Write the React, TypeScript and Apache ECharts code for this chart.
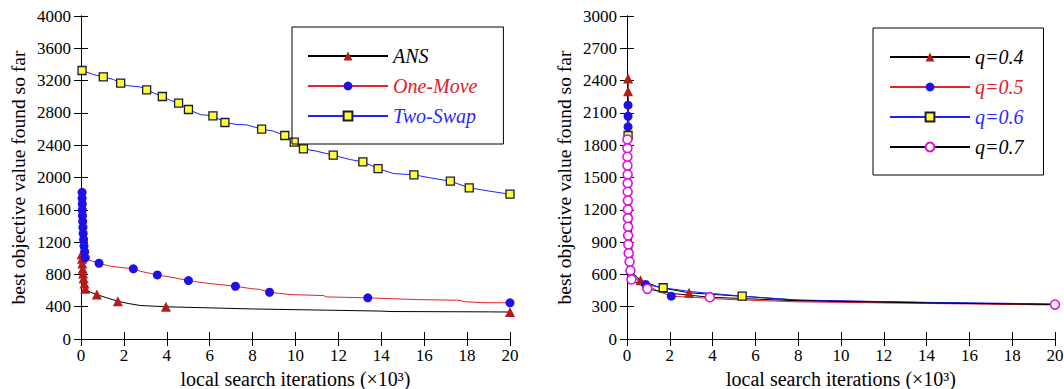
import React, { useEffect, useRef } from "react";
import * as echarts from "echarts";

const FONT = "Liberation Serif";

// ---------- Left panel: heuristics ----------
const leftNames = ["ANS", "One-Move", "Two-Swap"];
const ansMarks = [[0.03, 1050], [0.05, 993], [0.06, 935], [0.08, 869], [0.1, 811], [0.12, 753], [0.16, 687], [0.2, 621], [0.74, 550], [1.72, 468], [3.96, 399], [20, 334]];
const ansCurve = [[0.02, 1080], [0.43, 580], [1.2, 510], [2.2, 440], [2.76, 415], [8, 372], [13.9, 346], [14.5, 340], [19, 336]];
const oneMoveMarks = [[0.05, 1817], [0.05, 1743], [0.06, 1673], [0.06, 1599], [0.07, 1525], [0.08, 1454], [0.09, 1380], [0.1, 1306], [0.12, 1232], [0.14, 1153], [0.17, 1079], [0.2, 1005], [0.84, 938], [2.44, 869], [3.56, 794], [5.01, 724], [7.2, 653], [8.79, 579], [13.37, 510], [20, 448]];
const oneMoveCurve = [[0.04, 1830], [0.4, 975], [1.37, 901], [2.76, 839], [4.2, 765], [5.71, 696], [7.9, 625], [8.36, 613], [9.75, 550], [11.3, 538], [11.46, 521], [15.65, 488], [17.67, 480], [17.82, 463], [18.76, 450]];
const twoSwapMarks = [[0.05, 3325], [1.04, 3247], [1.85, 3168], [3.06, 3086], [3.79, 3003], [4.55, 2920], [5.01, 2842], [6.15, 2764], [6.71, 2681], [8.42, 2600], [9.5, 2520], [9.94, 2437], [10.37, 2355], [11.76, 2276], [13.14, 2194], [13.85, 2111], [15.52, 2033], [17.22, 1954], [18.1, 1872], [20, 1793]];
const twoSwapCurve = [[0.59, 3275], [1.52, 3213], [2.14, 3138], [2.76, 3122], [3.38, 3048], [4.16, 2956], [5.56, 2779], [7.27, 2656], [7.74, 2651], [8.98, 2573], [11.0, 2325], [12.55, 2222], [14.57, 2049], [16.28, 1996], [19.07, 1830]];

// ---------- Right panel: q values ----------
const rightNames = ["q=0.4", "q=0.5", "q=0.6", "q=0.7"];
const q4Marks = [[0.05, 2419], [0.05, 2302], [0.63, 546], [2.9, 429]];
const q4Curve = [[0.03, 2440], [0.25, 620], [1.5, 480], [6, 388], [8, 360], [12, 345], [20, 320]];
const q5Marks = [[0.05, 2172], [0.05, 2069], [0.05, 1971], [0.87, 506], [2.07, 398]];
const q5Curve = [[0.03, 2190], [0.2, 580], [1.5, 440], [5, 365], [8, 345], [14, 330], [20, 316]];
const q6Marks = [[0.05, 1890], [1.69, 476], [5.38, 398]];
const q6Curve = [[0.03, 1900], [0.25, 590], [0.9, 505], [3, 440], [8, 362], [14, 340], [20, 326]];
const q7Marks = [[0.02, 1853], [0.02, 1772], [0.02, 1692], [0.02, 1611], [0.03, 1528], [0.03, 1447], [0.03, 1367], [0.04, 1286], [0.04, 1203], [0.04, 1122], [0.05, 1042], [0.05, 961], [0.06, 878], [0.08, 797], [0.12, 717], [0.16, 636], [0.21, 553], [0.95, 466], [3.87, 388], [20, 320]];
const q7Curve = [[0.02, 1870], [2, 425], [8, 355], [14, 335]];

const xMax = 20;
const xStep = 2;
const leftYMax = 4000;
const leftYStep = 400;
const rightYMax = 3000;
const rightYStep = 300;

const xName = "local search iterations (×10³)";
const yName = "best objective value found so far";

function merge(curve: number[][], marks: number[][]) {
  const pts: any[] = [
    ...curve.map((p) => ({ value: p, symbol: "none" })),
    ...marks.map((p) => ({ value: p })),
  ];
  pts.sort((a, b) => b.value[1] - a.value[1] || a.value[0] - b.value[0]);
  return pts;
}

const tri = { symbol: "triangle", symbolSize: 10, itemStyle: { color: "#b81a1a" } };
const dot = { symbol: "circle", symbolSize: 9, itemStyle: { color: "#1e10e6" } };
const sq = { symbol: "rect", symbolSize: 8, itemStyle: { color: "#ffff33", borderColor: "#1a1a3a", borderWidth: 1.3 } };
const ring = { symbol: "circle", symbolSize: 9, itemStyle: { color: "#ffffff", borderColor: "#e010e0", borderWidth: 1.6 } };

function line(name: string, gi: number, data: any[], color: string, mark: any) {
  return {
    name,
    type: "line",
    xAxisIndex: gi * 2,
    yAxisIndex: gi * 2,
    data,
    showSymbol: true,
    ...mark,
    lineStyle: { color, width: 1 },
    emphasis: { disabled: true },
    z: 3,
  };
}

function axesFor(gi: number, yMax: number, yStep: number, nameGap: number) {
  const common = {
    axisLine: { show: true, lineStyle: { color: "#000", width: 1 } },
    axisTick: { show: true, inside: true, length: 7, lineStyle: { color: "#000" } },
    splitLine: { show: false },
  };
  const labelStyle = { color: "#000", fontFamily: FONT, fontSize: 17, formatter: (v: number) => String(v) };
  const x = [
    {
      gridIndex: gi, type: "value", position: "bottom", min: 0, max: xMax, interval: xStep,
      ...common,
      axisLabel: { ...labelStyle, margin: 8 },
      name: xName, nameLocation: "middle", nameGap: 30,
      nameTextStyle: { color: "#000", fontFamily: FONT, fontSize: 20 },
    },
    {
      gridIndex: gi, type: "value", position: "top", min: 0, max: xMax, interval: xStep,
      ...common, axisLabel: { show: false },
    },
  ];
  const y = [
    {
      gridIndex: gi, type: "value", position: "left", min: 0, max: yMax, interval: yStep,
      ...common,
      axisLabel: { ...labelStyle, margin: 10 },
      name: yName, nameLocation: "middle", nameGap,
      nameTextStyle: { color: "#000", fontFamily: FONT, fontSize: 19.5 },
    },
    {
      gridIndex: gi, type: "value", position: "right", min: 0, max: yMax, interval: yStep,
      ...common, axisLabel: { show: false },
    },
  ];
  return { x, y };
}

export default function App() {
  const ref = useRef<HTMLDivElement>(null);
  useEffect(() => {
    if (!ref.current) return;
    const chart = echarts.init(ref.current, undefined, { renderer: "svg" });
    const a0 = axesFor(0, leftYMax, leftYStep, 53);
    const a1 = axesFor(1, rightYMax, rightYStep, 53);
    const legendText = { fontFamily: FONT, fontSize: 20, fontStyle: "italic", lineHeight: 16 };
    const option: any = {
      animation: false,
      backgroundColor: "#ffffff",
      grid: [
        { left: 81, top: 16, width: 429, height: 323, containLabel: false, outerBoundsMode: "none" },
        { left: 627, top: 16, width: 428, height: 323, containLabel: false, outerBoundsMode: "none" },
      ],
      xAxis: [...a0.x, ...a1.x],
      yAxis: [...a0.y, ...a1.y],
      legend: [
        {
          left: 292, top: 27, orient: "vertical",
          itemWidth: 80, itemHeight: 11, itemGap: 10,
          padding: [19, 26, 18, 15],
          borderColor: "#000", borderWidth: 1,
          textStyle: legendText,
          data: [
            { name: leftNames[0], textStyle: { color: "#000" } },
            { name: leftNames[1], textStyle: { color: "#e0202a" } },
            { name: leftNames[2], textStyle: { color: "#2a2aff" } },
          ],
        },
        {
          left: 873, top: 28, orient: "vertical",
          itemWidth: 80, itemHeight: 11, itemGap: 10,
          padding: [19, 20, 18, 16],
          borderColor: "#000", borderWidth: 1,
          textStyle: legendText,
          data: [
            { name: rightNames[0], textStyle: { color: "#000" } },
            { name: rightNames[1], textStyle: { color: "#e0202a" } },
            { name: rightNames[2], textStyle: { color: "#2a2aff" } },
            { name: rightNames[3], textStyle: { color: "#000" } },
          ],
        },
      ],
      series: [
        line(leftNames[0], 0, merge(ansCurve, ansMarks), "#000000", tri),
        line(leftNames[1], 0, merge(oneMoveCurve, oneMoveMarks), "#e8202a", dot),
        line(leftNames[2], 0, merge(twoSwapCurve, twoSwapMarks), "#2020ff", sq),
        line(rightNames[0], 1, merge(q4Curve, q4Marks), "#000000", tri),
        line(rightNames[1], 1, merge(q5Curve, q5Marks), "#e8202a", dot),
        line(rightNames[2], 1, merge(q6Curve, q6Marks), "#2020ff", sq),
        line(rightNames[3], 1, merge(q7Curve, q7Marks), "#000000", ring),
      ],
    };
    chart.setOption(option);
    return () => chart.dispose();
  }, []);
  return (
    <div
      ref={ref}
      style={{ position: "absolute", left: 0, top: 0, width: 1064, height: 389, background: "#fff" }}
    />
  );
}
